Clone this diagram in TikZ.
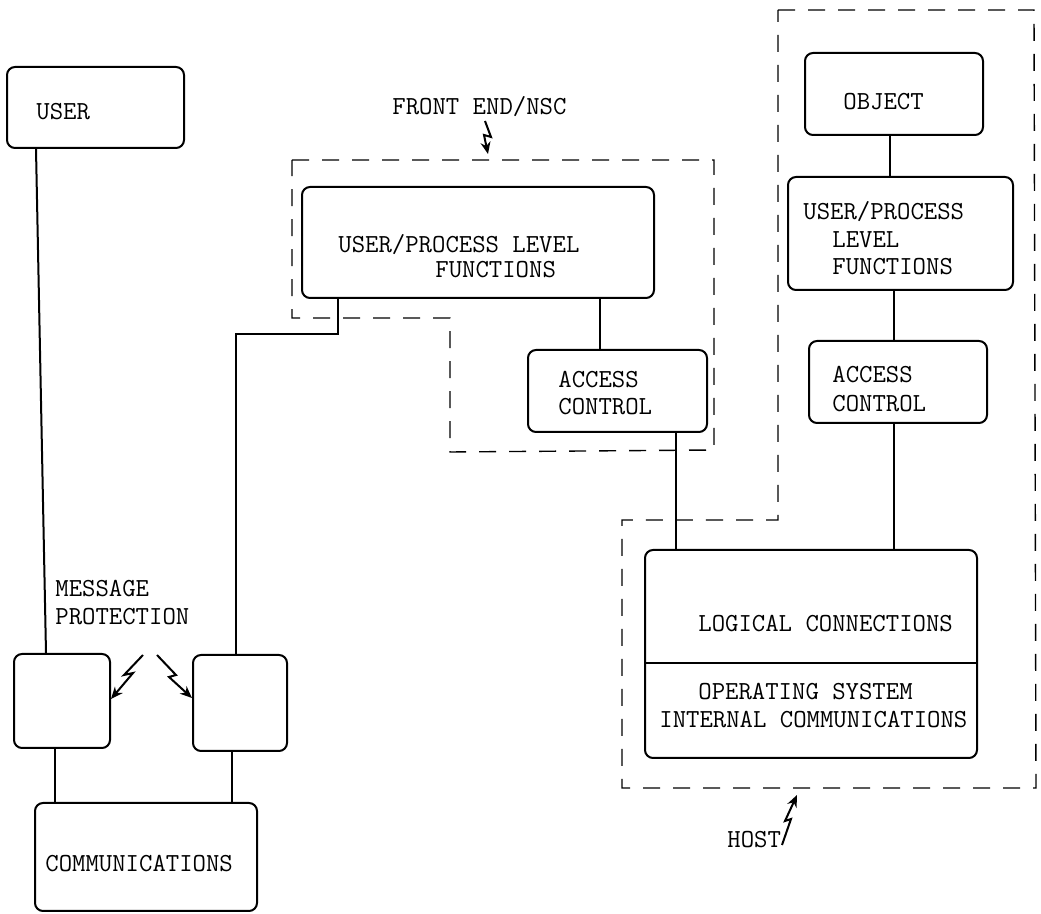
\documentclass[tikz,border=0pt]{standalone}
\usepackage{fontspec}
\usepackage{tikz}
\usetikzlibrary{calc,arrows.meta,positioning,fit}

\begin{document}
\begin{tikzpicture}[x=0.5pt, y=-0.5pt,
		box/.style={draw, rounded corners=4pt, line width=1pt, inner sep=0pt},
		wire/.style={line width=1pt},
		boundary/.style={line width=0.7pt, dash pattern=on 8.5pt off 6.5pt},
		bolt/.style={line width=1pt, -{Stealth[length=6pt,width=5pt]}},
		lbl/.style={anchor=base west, inner sep=0pt, font=\ttfamily\fontsize{13}{14}\selectfont}]
	\useasboundingbox (0,0) rectangle (1041,914);

	% Terminal side
	\node[box, fit={(7,67) (184,148)}] (user) {};
	\node[lbl] (userlbl) at (36,120) {USER};
	\node[box, fit={(14,654) (110,748)}] (mpl) {};
	\node[box, fit={(193,655) (287,751)}] (mpr) {};
	\node[box, fit={(35,803) (257,911)}] (comm) {};
	\node[lbl] (commlbl) at (45,872) {COMMUNICATIONS};
	\node[lbl] (msglbl) at (55,597) {MESSAGE};
	\node[lbl] (protlbl) at (55,625) {PROTECTION};

	% Front end
	\node[box, fit={(302,187) (654,298)}] (fep) {};
	\node[lbl] (feplbla) at (338,253) {USER/PROCESS LEVEL};
	\node[lbl] (feplblb) at (435,278) {FUNCTIONS};
	\node[box, fit={(528,350) (707,432)}] (fac) {};
	\node[lbl] (faclbla) at (558,388) {ACCESS};
	\node[lbl] (faclblb) at (558,415) {CONTROL};
	\node[lbl] (felbl) at (392,115) {FRONT END/NSC};
	\draw[boundary] (292,160) -- (714,160) -- (714,450) -- (450,452) -- (450,318) -- (292,318) -- cycle;

	% Host
	\node[box, fit={(805,53) (983,135)}] (obj) {};
	\node[lbl] (objlbl) at (843,110) {OBJECT};
	\node[box, fit={(788,177) (1013,290)}] (hup) {};
	\node[lbl] (huplbla) at (803,220) {USER/PROCESS};
	\node[lbl] (huplblb) at (832,248) {LEVEL};
	\node[lbl] (huplblc) at (832,275) {FUNCTIONS};
	\node[box, fit={(809,341) (987,423)}] (hac) {};
	\node[lbl] (haclbla) at (832,383) {ACCESS};
	\node[lbl] (haclblb) at (832,412) {CONTROL};
	\node[box, fit={(645,550) (977,758)}] (logic) {};
	\draw[wire] (logic.west |- 0,663) -- (logic.east |- 0,663);
	\node[lbl] (logiclbl) at (698,632) {LOGICAL CONNECTIONS};
	\node[lbl] (oslbla) at (698,700) {OPERATING SYSTEM};
	\node[lbl] (oslblb) at (659,728) {INTERNAL COMMUNICATIONS};
	\node[lbl] (hostlbl) at (727,848) {HOST};
	\draw[boundary] (778,10) -- (1034,10) -- (1036,788) -- (622,788) -- (622,520) -- (778,520) -- cycle;

	% Connections
	\draw[wire] ($(user.south west)+(30,0)$) -- ($(mpl.north west)+(33,0)$);
	\draw[wire] ($(mpl.south west)+(42,0)$) coordinate (ml) -- (ml |- comm.north);
	\draw[wire] ($(mpr.south west)+(40,0)$) coordinate (mr) -- (mr |- comm.north);
	\draw[wire] ($(fep.south west)+(37,0)$) -- ++(0,35) -| ($(mpr.north west)+(44,0)$);
	\draw[wire] ($(fep.south west)+(299,0)$) coordinate (fa) -- (fa |- fac.north);
	\draw[wire] ($(fac.south west)+(149,0)$) coordinate (fb) -- (fb |- logic.north);
	\draw[wire] ($(obj.south west)+(86,0)$) coordinate (oa) -- (oa |- hup.north);
	\draw[wire] ($(hup.south west)+(107,0)$) coordinate (ha) -- (ha |- hac.north);
	\draw[wire] ($(hac.south west)+(86,0)$) coordinate (hb) -- (hb |- logic.north);

	% Bolts
	\draw[bolt] (143,655) -- (124,675) -- (133,673) -- (111,699);
	\draw[bolt] (157,655) -- (176,675) -- (169,677) -- (192,698);
	\draw[bolt] (485,121) -- (491,137) -- (484,135) -- (488,154);
	\draw[bolt] (782,845) -- (791,819) -- (785,821) -- (797,795);
\end{tikzpicture}
\end{document}
